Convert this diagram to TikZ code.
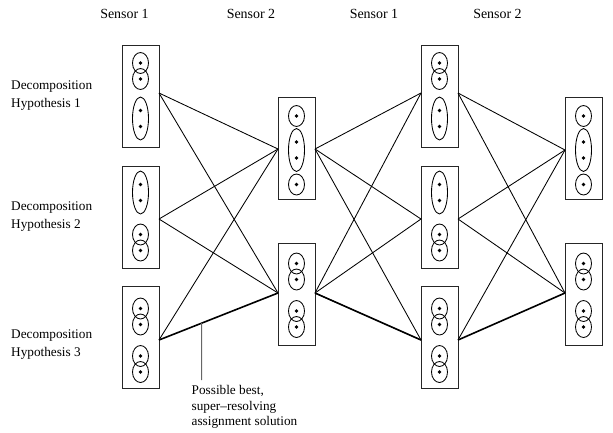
\documentclass[tikz,border=0pt]{standalone}
\usepackage{fontspec}
\setmainfont{Liberation Serif}
\usetikzlibrary{calc}

% one measurement: a small circle around a single dot
\newcommand{\onept}[2]{%
  \draw[ell] (#1,#2) ellipse [x radius=8, y radius=10.5];
  \fill (#1,#2) circle [radius=1.9];}
% an elongated ellipse around two dots
\newcommand{\twopt}[2]{%
  \draw[ell] (#1,#2) ellipse [x radius=8, y radius=21.5];
  \fill (#1,#2-8) circle [radius=1.9];
  \fill (#1,#2+8) circle [radius=1.9];}
% two overlapping circles, one dot each
\newcommand{\pairpt}[2]{\onept{#1}{#2-8}\onept{#1}{#2+8}}

\tikzset{
  box/.style={draw=black!85, line width=0.9bp, minimum width=37bp,
              minimum height=102bp, inner sep=0pt},
  ell/.style={line width=0.85bp},
  link/.style={line width=0.85bp},
  best/.style={line width=1.6bp},
  lbl/.style={font=\fontsize{13.3}{16}\selectfont, inner sep=0pt, anchor=base west},
  hdr/.style={font=\fontsize{14}{16}\selectfont, inner sep=0pt, anchor=base},
}

\begin{document}
\begin{tikzpicture}[x=1bp, y=-1bp]
\useasboundingbox (0,0) rectangle (613,432);

% sensor headings
\node[hdr] (h1) at (124.5,18) {Sensor 1};
\node[hdr] (h2) at (251,18) {Sensor 2};
\node[hdr] (h3) at (374,18) {Sensor 1};
\node[hdr] (h4) at (497.5,18) {Sensor 2};

% hypothesis labels
\node[lbl] (d1a) at (11,89) {Decomposition};
\node[lbl] (d1b) at (11,107) {Hypothesis 1};
\node[lbl] (d2a) at (11,210.7) {Decomposition};
\node[lbl] (d2b) at (11,228.3) {Hypothesis 2};
\node[lbl] (d3a) at (11,338) {Decomposition};
\node[lbl] (d3b) at (11,356) {Hypothesis 3};

% boxes
\foreach \c/\x in {A/140.5, C/439.5} {
  \node[box] (\c1) at (\x,96) {};
  \node[box] (\c2) at (\x,217.5) {};
  \node[box] (\c3) at (\x,337.5) {};
  \pairpt{\x}{71}\twopt{\x}{118.5}
  \twopt{\x}{192.5}\pairpt{\x}{242.5}
  \pairpt{\x}{316.5}\pairpt{\x}{364}
}
\foreach \c/\x in {B/296.5, D/583.5} {
  \node[box] (\c1) at (\x,148.5) {};
  \node[box] (\c2) at (\x,294) {};
  \onept{\x}{116}\twopt{\x}{150}\onept{\x}{184.5}
  \pairpt{\x}{271.5}\pairpt{\x}{319}
}

% connection ports
\coordinate (A1R) at (159,93);  \coordinate (A2R) at (159,219); \coordinate (A3R) at (159,340);
\coordinate (B1L) at (278,149); \coordinate (B2L) at (278,293);
\coordinate (B1R) at (315,149); \coordinate (B2R) at (315,293);
\coordinate (C1L) at (421,93);  \coordinate (C2L) at (421,219); \coordinate (C3L) at (421,340);
\coordinate (C1R) at (458,93);  \coordinate (C2R) at (458,219); \coordinate (C3R) at (458,340);
\coordinate (D1L) at (565,150); \coordinate (D2L) at (565,293);

% assignment links
\foreach \a in {A1R,A2R} \foreach \b in {B1L,B2L} \draw[link] (\a) -- (\b);
\draw[link] (A3R) -- (B1L);
\draw[best] (A3R) -- (B2L);
\foreach \a in {B1R,B2R} \foreach \b in {C1L,C2L,C3L} \draw[link] (\a) -- (\b);
\draw[best] (B2R) -- (C3L);
\foreach \a in {C1R,C2R} \foreach \b in {D1L,D2L} \draw[link] (\a) -- (\b);
\draw[link] (C3R) -- (D1L);
\draw[best] (C3R) -- (D2L);

% pointer to the best solution
\coordinate (ptop) at ($(A3R)!0.359!(B2L)$);
\coordinate (pbot) at (201.7,380);
\draw[black!60, line width=1bp] (ptop) -- (pbot);
\node[lbl] (n1) at (191.5,394.5) {Possible best,};
\node[lbl] (n2) at (191.5,410) {super--resolving};
\node[lbl] (n3) at (191.5,425.5) {assignment solution};
\end{tikzpicture}
\end{document}
